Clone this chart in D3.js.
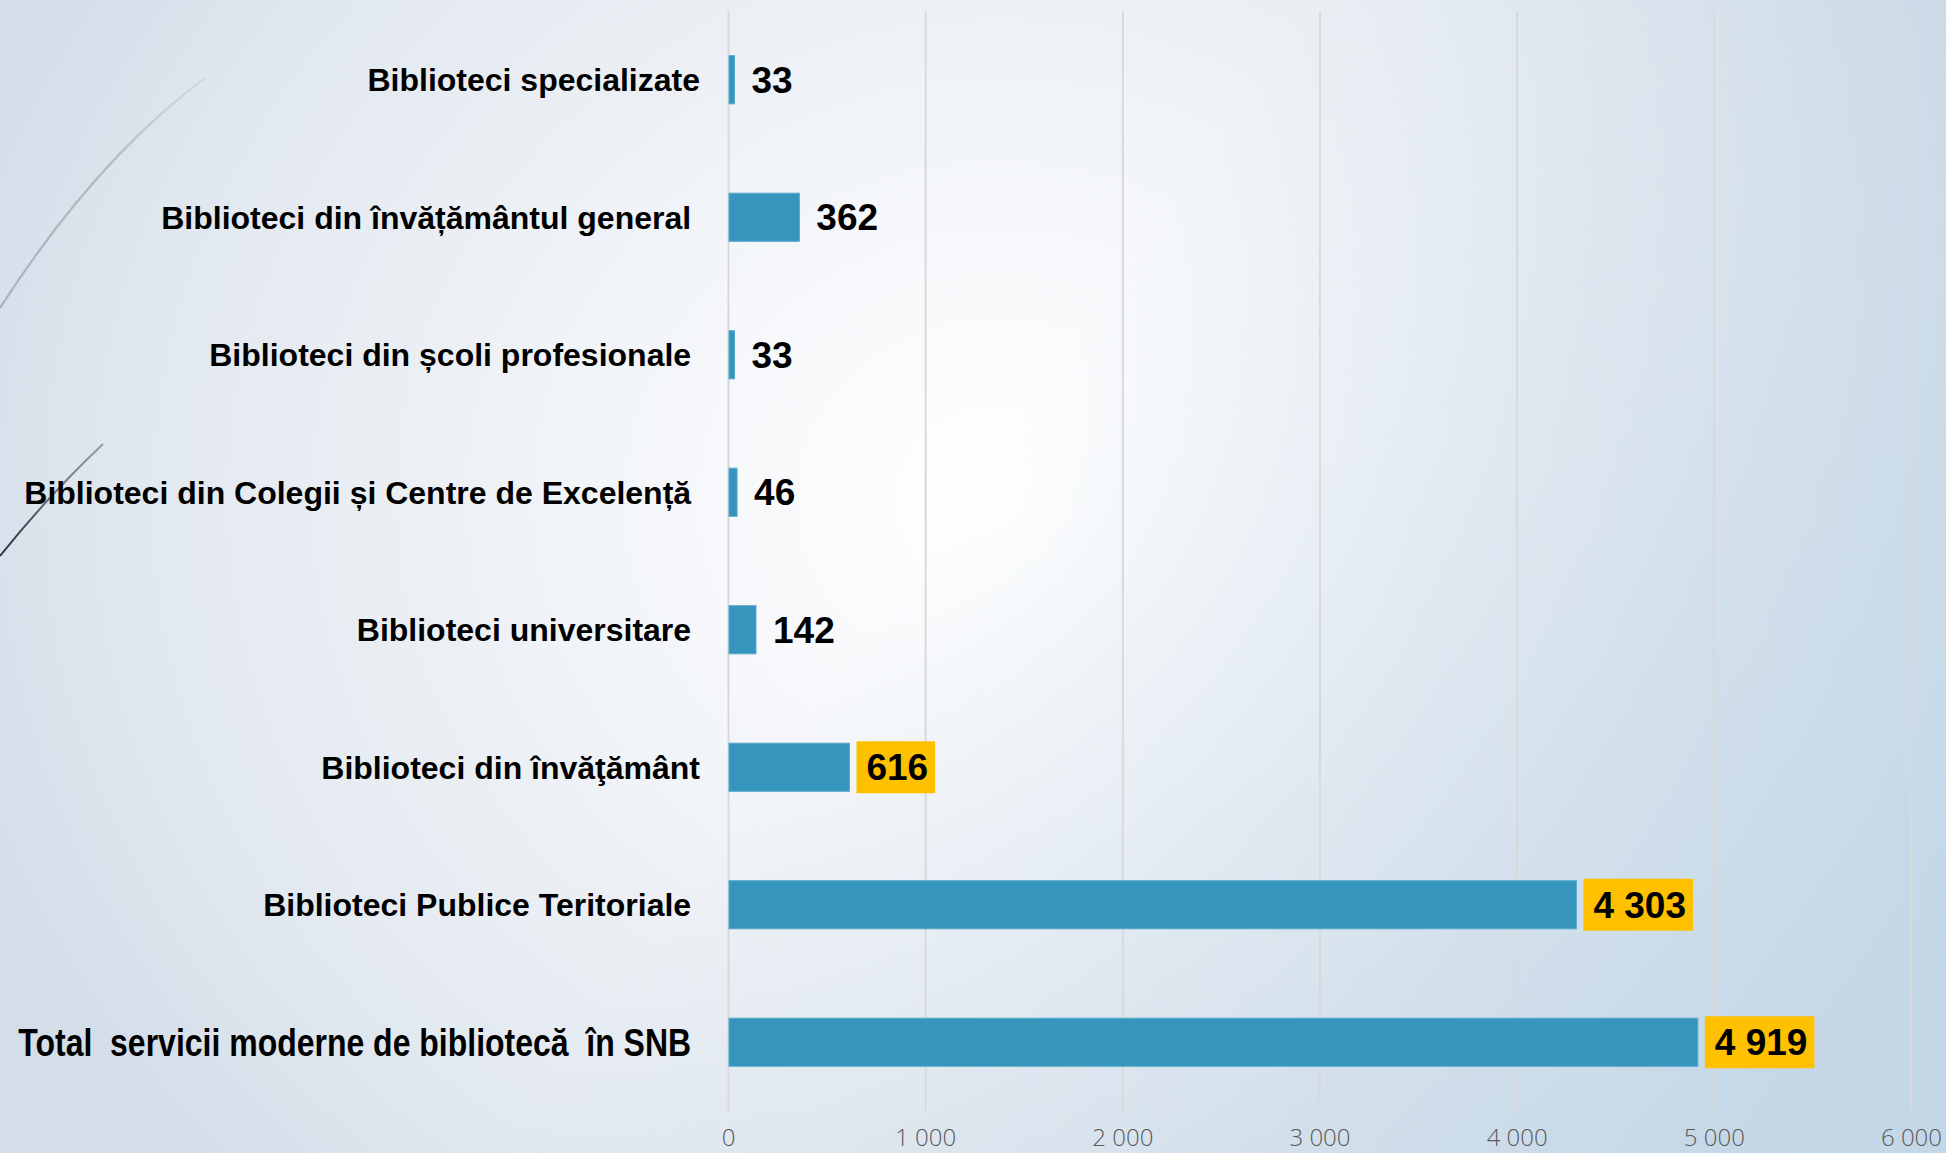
<!DOCTYPE html>
<html>
<head>
<meta charset="utf-8">
<script src="https://cdn.jsdelivr.net/npm/d3@7"></script>
<style>
    html, body { margin: 0; padding: 0; overflow: hidden; }
    body { width: 1946px; height: 1153px; }
    .cat-label { white-space: pre; }
</style>
</head>
<body>
<div id="chart"></div>
<script>
// categories from top to bottom, as printed in the picture
const categories = [
    'Biblioteci specializate',
    'Biblioteci din învățământul general ',
    'Biblioteci din școli profesionale ',
    'Biblioteci din Colegii și Centre de Excelență ',
    'Biblioteci universitare ',
    'Biblioteci din învăţământ',
    'Biblioteci Publice Teritoriale ',
    'Total  servicii moderne de bibliotecă  în SNB '
];
const values = [33, 362, 33, 46, 142, 616, 4303, 4919];
// rows whose value sits in a yellow box
const summaryRows = [
    'Biblioteci din învăţământ',
    'Biblioteci Publice Teritoriale ',
    'Total  servicii moderne de bibliotecă  în SNB '
];
const totalRow = 'Total  servicii moderne de bibliotecă  în SNB ';
const tickValues = [0, 1000, 2000, 3000, 4000, 5000, 6000];

const WIDTH = 1946;
const HEIGHT = 1153;
const BAR_COLOR = '#3595bc';
const BOX_COLOR = '#ffc000';
const LABEL_RIGHT = 700;

const locale = d3.formatLocale({ decimal: ',', thousands: ' ', grouping: [3], currency: ['', ''] });
const fmt = locale.format(',d');

const svg = d3.select('#chart')
    .append('svg')
    .attr('width', WIDTH)
    .attr('height', HEIGHT);

const defs = svg.append('defs');

const bg = defs.append('radialGradient')
    .attr('id', 'bg')
    .attr('gradientUnits', 'userSpaceOnUse')
    .attr('cx', 1000).attr('cy', 500).attr('r', 1100)
    .attr('gradientTransform', 'translate(1000,500) scale(1,0.9) translate(-1000,-500)');
bg.append('stop').attr('offset', 0).attr('stop-color', '#ffffff');
bg.append('stop').attr('offset', 0.3).attr('stop-color', '#f5f7fa');
bg.append('stop').attr('offset', 0.75).attr('stop-color', '#e3e9f0');
bg.append('stop').attr('offset', 1).attr('stop-color', '#d3dee9');

const shade = defs.append('linearGradient')
    .attr('id', 'shade')
    .attr('gradientUnits', 'userSpaceOnUse')
    .attr('x1', 1100).attr('y1', 300).attr('x2', 1946).attr('y2', 900);
shade.append('stop').attr('offset', 0).attr('stop-color', '#c2d6e6').attr('stop-opacity', 0);
shade.append('stop').attr('offset', 1).attr('stop-color', '#c2d6e6').attr('stop-opacity', 0.85);

const grayFade = defs.append('linearGradient')
    .attr('id', 'grayFade')
    .attr('gradientUnits', 'userSpaceOnUse')
    .attr('x1', 205).attr('y1', 78).attr('x2', 0).attr('y2', 308);
grayFade.append('stop').attr('offset', 0).attr('stop-color', '#c3c8ce').attr('stop-opacity', 0.4);
grayFade.append('stop').attr('offset', 0.4).attr('stop-color', '#b4bac2');
grayFade.append('stop').attr('offset', 1).attr('stop-color', '#abb2bb');

const darkFade = defs.append('linearGradient')
    .attr('id', 'darkFade')
    .attr('gradientUnits', 'userSpaceOnUse')
    .attr('x1', 103).attr('y1', 444).attr('x2', 0).attr('y2', 556);
darkFade.append('stop').attr('offset', 0).attr('stop-color', '#6a6a78').attr('stop-opacity', 0.6);
darkFade.append('stop').attr('offset', 1).attr('stop-color', '#2a2a38');

svg.append('rect')
    .attr('width', WIDTH)
    .attr('height', HEIGHT)
    .attr('fill', 'url(#bg)');
svg.append('rect')
    .attr('width', WIDTH)
    .attr('height', HEIGHT)
    .attr('fill', 'url(#shade)');

// decorative strokes on the left edge
const curve = d3.path();
curve.moveTo(205, 78);
curve.quadraticCurveTo(95, 160, 0, 308);
svg.append('path')
    .attr('d', curve.toString())
    .attr('fill', 'none')
    .attr('stroke', 'url(#grayFade)')
    .attr('stroke-width', 2.2);

const dark = d3.path();
dark.moveTo(103, 444);
dark.quadraticCurveTo(48, 496, 0, 556);
svg.append('path')
    .attr('d', dark.toString())
    .attr('fill', 'none')
    .attr('stroke', 'url(#darkFade)')
    .attr('stroke-width', 2);

const xScale = d3.scaleLinear()
    .domain([0, 6000])
    .range([728, 1911]);

const yScale = d3.scaleBand()
    .domain(categories)
    .range([11, 1111])
    .paddingInner(0.65)
    .paddingOuter(0.325);

// grid + bottom tick labels
const axis = svg.append('g')
    .attr('transform', 'translate(0,1111)')
    .call(d3.axisBottom(xScale)
        .tickValues(tickValues)
        .tickSize(-1100)
        .tickPadding(18)
        .tickFormat(fmt));
axis.select('.domain').remove();
axis.selectAll('.tick line')
    .attr('stroke', '#d9d9d9')
    .attr('stroke-width', 2);
axis.selectAll('.tick text')
    .attr('fill', '#595959')
    .style('font-family', '"Open Sans", sans-serif')
    .style('font-weight', 300)
    .style('font-size', '24px');

const rows = svg.selectAll('.row')
    .data(categories.map((c, i) => ({ name: c, value: values[i] })))
    .enter()
    .append('g')
    .attr('class', 'row');

rows.append('rect')
    .attr('x', xScale(0) + 1)
    .attr('y', d => yScale(d.name))
    .attr('width', d => xScale(d.value) - xScale(0) - 1)
    .attr('height', yScale.bandwidth())
    .attr('fill', BAR_COLOR)
    .attr('stroke', '#5aaacd')
    .attr('stroke-width', 1);

const VALUE_SIZE = 37;

rows.filter(d => summaryRows.includes(d.name))
    .append('rect')
    .attr('x', d => xScale(d.value) + 7)
    .attr('y', d => yScale(d.name) + yScale.bandwidth() / 2 - 26)
    .attr('width', d => fmt(d.value).length * 0.556 * VALUE_SIZE - (fmt(d.value).includes(' ') ? 0.278 * VALUE_SIZE : 0) + 17)
    .attr('height', 52)
    .attr('fill', BOX_COLOR);

rows.append('text')
    .attr('x', d => xScale(d.value) + 17)
    .attr('y', d => yScale(d.name) + yScale.bandwidth() / 2 + VALUE_SIZE * 0.358)
    .text(d => fmt(d.value))
    .style('font-family', '"Liberation Sans", Arial, sans-serif')
    .style('font-weight', 'bold')
    .style('font-size', VALUE_SIZE + 'px')
    .attr('fill', '#000');

// regular category labels
rows.filter(d => d.name !== totalRow)
    .append('text')
    .attr('class', 'cat-label')
    .attr('x', LABEL_RIGHT)
    .attr('y', d => yScale(d.name) + yScale.bandwidth() / 2 + 32 * 0.358)
    .attr('text-anchor', 'end')
    .text(d => d.name)
    .style('font-family', '"Liberation Sans", Arial, sans-serif')
    .style('font-weight', 'bold')
    .style('font-size', '32px')
    .attr('fill', '#000');

// total label is set in a narrow face: squeeze Liberation Sans horizontally
const NARROW = 0.82;
rows.filter(d => d.name === totalRow)
    .append('text')
    .attr('class', 'cat-label')
    .attr('transform', d => `translate(${LABEL_RIGHT},${yScale(d.name) + yScale.bandwidth() / 2 + 39 * 0.358}) scale(${NARROW},1)`)
    .attr('text-anchor', 'end')
    .text(d => d.name)
    .style('font-family', '"Liberation Sans", Arial, sans-serif')
    .style('font-weight', 'bold')
    .style('font-size', '39px')
    .attr('fill', '#000');
</script>
</body>
</html>
